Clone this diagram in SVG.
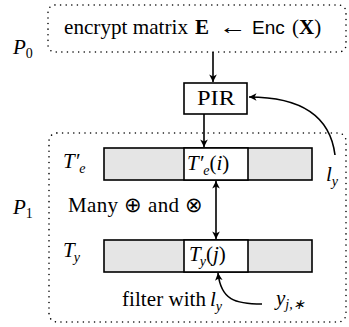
<svg xmlns="http://www.w3.org/2000/svg" width="349" height="327" viewBox="0 0 349 327">
<style>
.t{font-family:"Liberation Serif","Times New Roman",serif;font-size:21px;fill:#000}
.m{font-family:"Liberation Serif","Times New Roman",serif;font-style:italic;font-size:21px;fill:#000}
.s{font-size:14px}
.dot{fill:none;stroke:#000;stroke-width:1.6;stroke-dasharray:0 5.6;stroke-linecap:round}
.box{stroke:#000;stroke-width:1.6}
.ln{fill:none;stroke:#000;stroke-width:1.6}
</style>
<defs>
<marker id="ah" markerWidth="10" markerHeight="10" viewBox="-8 -5 10 10" refX="0" refY="0" orient="auto-start-reverse" markerUnits="userSpaceOnUse">
<path d="M0,0 L-7.5,-3.8 L-5.5,0 L-7.5,3.8 Z" fill="#000"/>
</marker>
</defs>
<g id="P0">
<rect class="dot" x="48" y="5" width="298" height="47" rx="7"/>
<text class="m" x="13" y="54" font-size="23">P<tspan class="s" font-style="normal" dy="4">0</tspan></text>
<text class="t" x="64" y="34" textLength="124" lengthAdjust="spacingAndGlyphs">encrypt matrix</text>
<text class="t" x="195" y="34" font-weight="bold">E</text>
<text class="t" x="219" y="34" textLength="28" lengthAdjust="spacingAndGlyphs">←</text>
<text x="252" y="34" font-family="'Liberation Sans',Arial,sans-serif" font-size="19">Enc</text>
<text class="t" x="292" y="34">(<tspan font-weight="bold">X</tspan>)</text>
</g>
<g id="PIR">
<rect class="box" x="184" y="83" width="63" height="31" fill="#fff"/>
<text class="t" x="197" y="105" textLength="38" lengthAdjust="spacingAndGlyphs">PIR</text>
</g>
<g id="P1">
<rect class="dot" x="49" y="133" width="297" height="189" rx="8"/>
<text class="m" x="13" y="214" font-size="23">P<tspan class="s" font-style="normal" dy="4">1</tspan></text>
<text class="t" x="68" y="212" textLength="135">Many ⊕ and ⊗</text>
</g>
<g id="Te">
<rect class="box" x="104" y="148" width="208" height="32" fill="#e5e5e5"/>
<rect class="box" x="184" y="148" width="64" height="32" fill="#fff"/>
<text class="m" x="63" y="168">T′<tspan class="s" dy="5">e</tspan></text>
<text class="m" x="187" y="170">T′<tspan class="s" dy="5">e</tspan><tspan font-style="normal" dy="-5">(</tspan>i<tspan font-style="normal">)</tspan></text>
</g>
<g id="Ty">
<rect class="box" x="104" y="240" width="208" height="32" fill="#e5e5e5"/>
<rect class="box" x="184" y="240" width="64" height="32" fill="#fff"/>
<text class="m" x="63" y="257">T<tspan class="s" dx="-1" dy="5">y</tspan></text>
<text class="m" x="189" y="261">T<tspan class="s" dx="-1" dy="5">y</tspan><tspan font-style="normal" dy="-5">(</tspan>j<tspan font-style="normal">)</tspan></text>
</g>
<g id="labels">
<text class="m" x="326" y="181">l<tspan class="s" dy="5">y</tspan></text>
<text class="t" x="122" y="306" textLength="84">filter with</text>
<text class="m" x="210" y="306">l<tspan class="s" dy="5">y</tspan></text>
<text class="m" x="276" y="305">y<tspan class="s" dy="4">j,∗</tspan></text>
</g>
<g id="connectors">
<line class="ln" x1="213" y1="52" x2="213" y2="82" marker-end="url(#ah)"/>
<line class="ln" x1="204" y1="114" x2="204" y2="147" marker-end="url(#ah)"/>
<line class="ln" x1="216" y1="181" x2="216" y2="239" marker-start="url(#ah)" marker-end="url(#ah)"/>
<path class="ln" d="M335,155 C330,115 300,97 249,97" marker-end="url(#ah)"/>
<path class="ln" d="M262,304 C235,304 221,300 218,273" marker-end="url(#ah)"/>
</g>
</svg>
